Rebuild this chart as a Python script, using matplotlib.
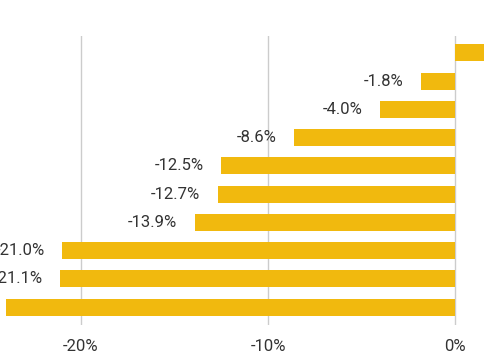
import matplotlib.pyplot as plt
from matplotlib.ticker import FuncFormatter

plt.rcParams['font.family'] = ['Roboto', 'DejaVu Sans']

values = [3.0, -1.8, -4.0, -8.6, -12.5, -12.7, -13.9, -21.0, -21.1, -24.0]
labels = ["3.0%", "-1.8%", "-4.0%", "-8.6%", "-12.5%", "-12.7%", "-13.9%", "-21.0%", "-21.1%", "-24.0%"]
ticks = [-20, -10, 0]

fig = plt.figure(figsize=(4.85, 3.6), dpi=100)
ax = fig.add_axes([0, 0.0972, 1, 0.803])

pos = list(range(len(values)))
ax.barh(pos, values, height=0.6, color='#F1B90E', zorder=2)

# value labels sit just outside the bar end
for p, v, lab in zip(pos, values, labels):
    if v < 0:
        ax.text(v - 0.95, p, lab, ha='right', va='center', fontsize=12, color='#333333')
    else:
        ax.text(v + 0.95, p, lab, ha='left', va='center', fontsize=12, color='#333333')

ax.set_xlim(-24.33, 1.6)
ax.set_ylim(9.63, -0.6)
ax.set_xticks(ticks)
ax.xaxis.set_major_formatter(FuncFormatter(lambda x, _: f"{x:.0f}%"))
ax.tick_params(axis='x', length=0, labelsize=12, labelcolor='#333333', pad=10)
ax.set_yticks([])
ax.grid(axis='x', color='#cccccc', linewidth=1, zorder=0)
for s in ax.spines.values():
    s.set_visible(False)

fig.savefig('out.png', dpi=100)
